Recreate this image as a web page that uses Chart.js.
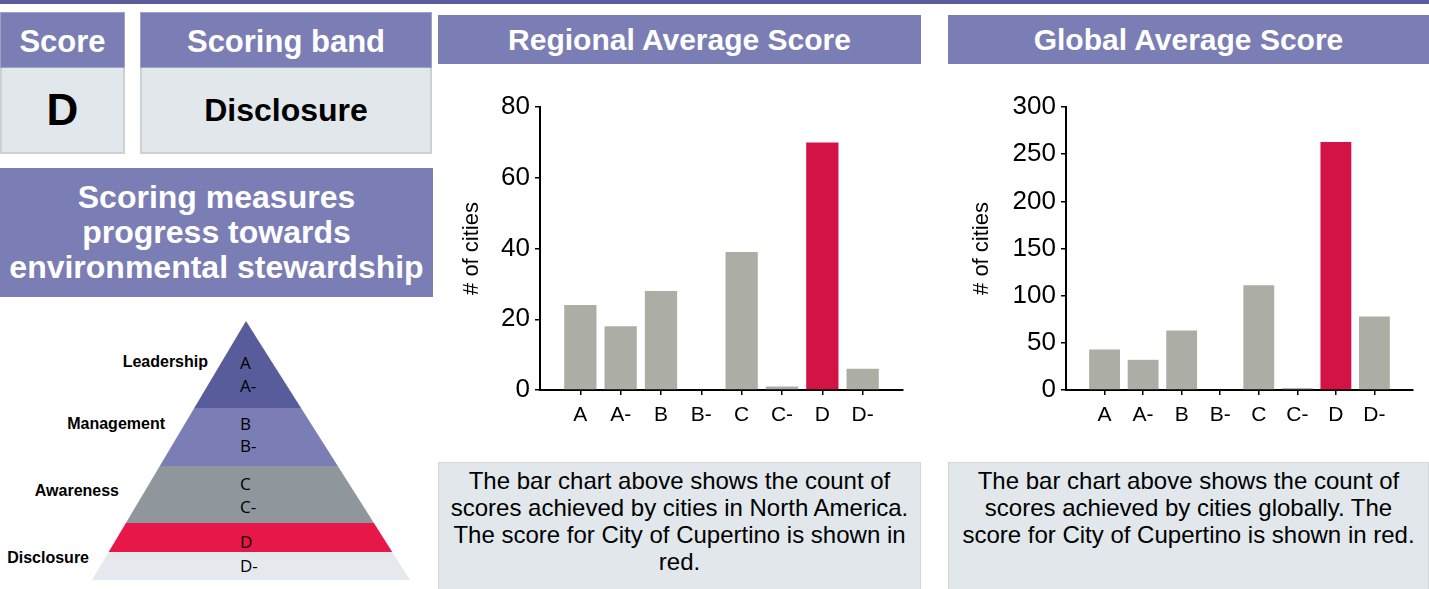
<!DOCTYPE html>
<html>
<head>
<meta charset="utf-8">
<script src="https://cdn.jsdelivr.net/npm/chart.js@4"></script>
<style>
  body { margin: 0; width: 1429px; height: 589px; overflow: hidden; background: #fff; font-family: "Liberation Sans", Arial, sans-serif; position: relative; }
  .abs { position: absolute; box-sizing: border-box; }
  .hdr { background: #7b7db5; color: #fff; font-weight: bold; text-align: center; display: flex; align-items: center; justify-content: center; }
  .val { background: #e1e7eb; border: 2px solid #cdd1d4; border-top: none; color: #000; font-weight: bold; display: flex; align-items: center; justify-content: center; }
  .desc { background: #e1e7eb; border: 1px solid #d3d7da; color: #000; font-size: 24px; line-height: 27px; text-align: center; padding: 4px 10px 0; }
  canvas { position: absolute; }
</style>
</head>
<body>
<div class="abs" style="left:0;top:0;width:1429px;height:4px;background:#5a5c9b"></div>

<div class="abs hdr" style="left:0;top:12px;width:125px;height:56px;font-size:31px;padding-top:3px;border:1px solid #9fa1cc">Score</div>
<div class="abs val" style="left:0;top:68px;width:125px;height:86px;font-size:44px">D</div>
<div class="abs hdr" style="left:140px;top:12px;width:292px;height:56px;font-size:31px;padding-top:3px;border:1px solid #9fa1cc">Scoring band</div>
<div class="abs val" style="left:140px;top:68px;width:292px;height:86px;font-size:32px">Disclosure</div>

<div class="abs hdr" style="left:0;top:168px;width:433px;height:129px;font-size:32px;line-height:35px">Scoring measures<br>progress towards<br>environmental stewardship</div>

<svg class="abs" style="left:0;top:0" width="440" height="589">
  <defs>
    <clipPath id="tri"><polygon points="246,321 92,580 410,580"/></clipPath>
  </defs>
  <g clip-path="url(#tri)">
    <rect x="0" y="300" width="440" height="108" fill="#595c9b"/>
    <rect x="0" y="408" width="440" height="58" fill="#7b7db5"/>
    <rect x="0" y="466" width="440" height="57" fill="#8f979c"/>
    <rect x="0" y="523" width="440" height="29" fill="#e8174a"/>
    <rect x="0" y="552" width="440" height="28" fill="#e5e8ec"/>
  </g>
  <g font-family="Liberation Sans, Arial, sans-serif" font-weight="bold" font-size="16" fill="#000" text-anchor="end" dominant-baseline="central">
    <text x="208" y="361">Leadership</text>
    <text x="165" y="423">Management</text>
    <text x="119" y="490">Awareness</text>
    <text x="89" y="557">Disclosure</text>
  </g>
  <g font-family="Open Sans, sans-serif" font-size="17" fill="#000" dominant-baseline="central">
    <text x="240" y="362">A</text>
    <text x="240" y="385">A-</text>
    <text x="240" y="423">B</text>
    <text x="240" y="445">B-</text>
    <text x="240" y="483">C</text>
    <text x="240" y="506">C-</text>
    <text x="240" y="541">D</text>
    <text x="240" y="565">D-</text>
  </g>
</svg>

<div class="abs hdr" style="left:438px;top:15px;width:483px;height:49px;font-size:30px">Regional Average Score</div>
<div class="abs hdr" style="left:948px;top:15px;width:481px;height:49px;font-size:30px">Global Average Score</div>

<canvas id="regional" width="483" height="360" style="left:438px;top:80px"></canvas>
<canvas id="global" width="481" height="360" style="left:948px;top:80px"></canvas>

<div class="abs desc" style="left:438px;top:462px;width:483px;height:140px">The bar chart above shows the count of scores achieved by cities in North America. The score for City of Cupertino is shown in red.</div>
<div class="abs desc" style="left:948px;top:462px;width:481px;height:140px">The bar chart above shows the count of scores achieved by cities globally. The score for City of Cupertino is shown in red.</div>

<script>
const categories = ['A', 'A-', 'B', 'B-', 'C', 'C-', 'D', 'D-'];
const regionalCounts = [24, 18, 28, 0, 39, 1, 70, 6];
const globalCounts = [43, 32, 63, 0, 111, 2, 263, 78];
const cityScore = 'D';
const regionalTicks = { max: 80, step: 20 };
const globalTicks = { max: 300, step: 50 };

const FONT = '"Liberation Sans", Arial, sans-serif';

function makeChart(id, counts, yt, axisWidth, padRight) {
  new Chart(document.getElementById(id), {
    type: 'bar',
    data: {
      datasets: [{
        data: counts.map((v, i) => ({ x: i, y: v })),
        backgroundColor: categories.map(c => c === cityScore ? '#d31245' : '#acaea6'),
        barPercentage: 0.8,
        categoryPercentage: 1
      }]
    },
    options: {
      responsive: false,
      animation: false,
      layout: { padding: { top: 27, right: padRight, left: 0, bottom: 0 } },
      plugins: { legend: { display: false }, tooltip: { enabled: false } },
      scales: {
        x: {
          type: 'linear',
          offset: false,
          min: -1,
          max: categories.length,
          afterBuildTicks: s => { s.ticks = s.ticks.filter(t => t.value >= 0 && t.value < categories.length); },
          afterFit: s => { s.height = 50; },
          grid: { offset: false, drawOnChartArea: false, tickLength: 5, color: '#000', lineWidth: 1.5 },
          border: { color: '#000', width: 2 },
          ticks: {
            stepSize: 1, autoSkip: false, maxRotation: 0, padding: 8, color: '#000',
            font: { family: FONT, size: 21 },
            callback: v => categories[v] ?? ''
          }
        },
        y: {
          min: 0,
          max: yt.max,
          afterFit: s => { s.width = axisWidth; },
          grid: { drawOnChartArea: false, tickLength: 5, color: '#000', lineWidth: 1.5 },
          border: { color: '#000', width: 2 },
          ticks: { stepSize: yt.step, padding: 5, color: '#000', font: { family: FONT, size: 26 } },
          title: { display: true, text: '# of cities', color: '#000', font: { family: FONT, size: 22 }, padding: { top: 21, bottom: 0 } }
        }
      }
    }
  });
}

makeChart('regional', regionalCounts, regionalTicks, 102, 18);
makeChart('global', globalCounts, globalTicks, 118, 16);
</script>
</body>
</html>
